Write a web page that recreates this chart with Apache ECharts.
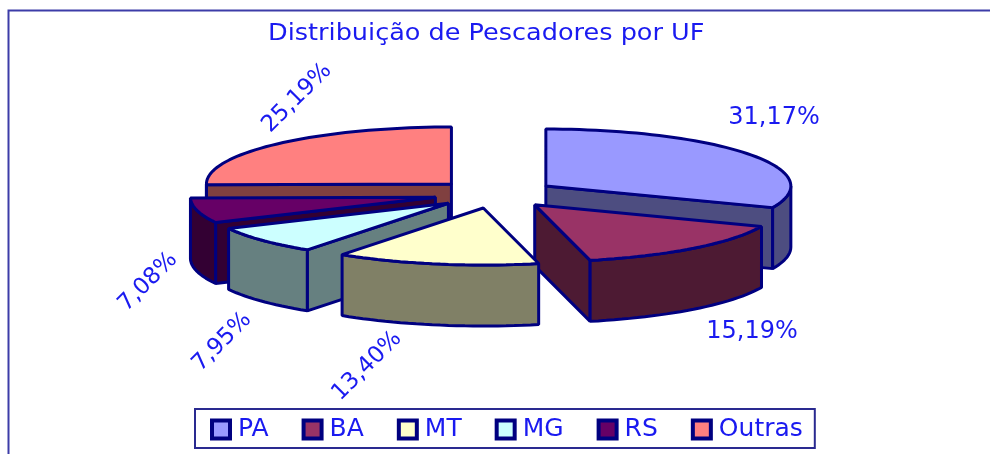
<!DOCTYPE html>
<html><head><meta charset="utf-8">
<style>html,body{margin:0;padding:0;background:#fff}#c{width:990px;height:454px}</style>
<script src="https://cdn.jsdelivr.net/npm/echarts@6/dist/echarts.min.js"></script>
</head><body><div id="c"></div>
<script>
const titleText = 'Distribuição de Pescadores por UF';
const categories = ['PA','BA','MT','MG','RS','Outras'];
const shares = [31.17,15.19,13.40,7.95,7.08,25.19];
const topColors = ['#9999FF','#993366','#FFFFCC','#CCFFFF','#660066','#FF8080'];
const sideColors = ['#4D4D80','#4D1A33','#808066','#668080','#330033','#804040'];
const paintOrder = [5,0,4,3,1,2];
// label placement relative to the pie centre, and rotation in degrees
const labelPlace = [[279,-76,0],[257,138,0],[-128,172,45],[-273,148,45],[-347,88,45],[-198,-96,45]];

const PIE = {cx:495, cy:194, rx:245, ry:57, depth:61, explode:0.25};
const INK = '#000080', TEXT = '#1a1af0', FONT = '"DejaVu Sans"';
const total = shares.reduce((a,b)=>a+b,0);
const starts = []; let acc = 0;
shares.forEach(v=>{starts.push(acc); acc += v/total*360;});
const rad = d=>d*Math.PI/180;

function renderSlice(i, params, api){
  const v = api.value(0), a0 = starts[i], a1 = a0 + v/total*360, mid = (a0+a1)/2;
  const ox = PIE.cx + PIE.explode*PIE.rx*Math.sin(rad(mid));
  const oy = PIE.cy - PIE.explode*PIE.ry*Math.cos(rad(mid));
  const pt = (d,dz)=>[ox+PIE.rx*Math.sin(rad(d)), oy-PIE.ry*Math.cos(rad(d))+(dz||0)];
  const arc = (s,e,dz)=>{const n=Math.max(2,Math.ceil(Math.abs(e-s)/2)),o=[];
    for(let k=0;k<=n;k++)o.push(pt(s+(e-s)*k/n,dz));return o;};
  const st = c=>({fill:c, stroke:INK, lineWidth:3, lineJoin:'bevel'});
  const kids = [];
  const wall = d=>kids.push({type:'polygon',shape:{points:[[ox,oy],pt(d),pt(d,PIE.depth),[ox,oy+PIE.depth]]},style:st(sideColors[i])});
  if(Math.sin(rad(a0))<0) wall(a0);
  if(Math.sin(rad(a1))>0) wall(a1);
  const fs = Math.max(a0,90), fe = Math.min(a1,270);
  if(fe>fs) kids.push({type:'polygon',shape:{points:arc(fs,fe,0).concat(arc(fe,fs,PIE.depth))},style:st(sideColors[i])});
  kids.push({type:'polygon',shape:{points:[[ox,oy]].concat(arc(a0,a1,0))},style:st(topColors[i])});
  const p = labelPlace[i];
  kids.push({type:'text',x:PIE.cx+p[0],y:PIE.cy+p[1],rotation:rad(p[2]),
    style:{text:v.toFixed(2).replace('.',',')+'%',fill:TEXT,font:(p[2]?23:24)+'px '+FONT,textAlign:'center',textVerticalAlign:'middle'}});
  return {type:'group',children:kids};
}

const chart = echarts.init(document.getElementById('c'),null,{renderer:'canvas'});
chart.setOption({
  animation:false,
  legend:{data:categories,icon:'rect',left:195,top:409,itemWidth:18,itemHeight:18,itemGap:33,selectedMode:false,
    backgroundColor:'#fff',borderColor:'#2a2a90',borderWidth:2,padding:[8,12,6,15],
    textStyle:{color:TEXT,fontFamily:FONT,fontSize:25,padding:[3,0,0,3]},
    itemStyle:{borderColor:INK,borderWidth:4}},
  graphic:[
    {type:'rect',silent:true,z:-1,shape:{x:8.5,y:10.5,width:1000,height:500},style:{fill:'#fff',stroke:'#3c3ca8',lineWidth:2}},
    {type:'text',silent:true,z:1,x:268,y:34,scaleX:1.11,style:{text:titleText,fill:TEXT,font:'23px '+FONT,textAlign:'left',textVerticalAlign:'middle'}}
  ],
  series:paintOrder.map((i,o)=>({
    type:'custom',name:categories[i],coordinateSystem:'none',z:2+o,silent:true,
    itemStyle:{color:topColors[i]},data:[[shares[i]]],
    renderItem:(pa,api)=>renderSlice(i,pa,api)
  }))
});
</script></body></html>
